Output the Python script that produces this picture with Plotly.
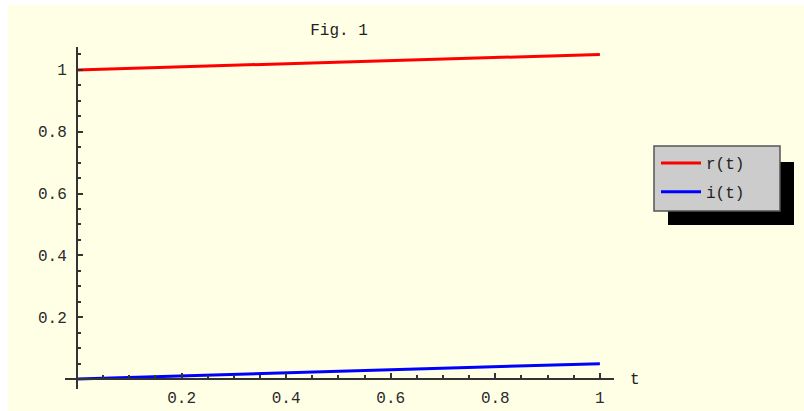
import plotly.graph_objects as go

t_vals = [0.0, 0.25, 0.5, 0.75, 1.0]
r_vals = [1.0, 1.0125, 1.025, 1.0375, 1.05]
i_vals = [0.0, 0.0125, 0.025, 0.0375, 0.05]
x_ticks = [0.2, 0.4, 0.6, 0.8, 1.0]
x_ticklabels = ["0.2", "0.4", "0.6", "0.8", "1"]
y_ticks = [0.2, 0.4, 0.6, 0.8, 1.0]
y_ticklabels = ["0.2", "0.4", "0.6", "0.8", "1"]

BG = "#FFFFE6"
FONT = "Liberation Mono"

W, H = 804, 411
L, R, T, B = 65, 190, 47, 22
PW, PH = W - L - R, H - T - B
xr = [-0.023, 1.027]
yr = [-0.032, 1.074]


def px2paper_x(px):
    return (px - L) / PW


def py2paper_y(py):
    return (H - B - py) / PH


fig = go.Figure()
fig.add_trace(go.Scatter(x=t_vals, y=r_vals, mode="lines", name="r(t)", legendgroup="r",
                         line=dict(color="#FF0000", width=3)))
fig.add_trace(go.Scatter(x=t_vals, y=i_vals, mode="lines", name="i(t)", legendgroup="i",
                         line=dict(color="#0000FF", width=3)))

axis_font = dict(family=FONT, size=16, color="#2a2a2a")
tick_common = dict(ticks="inside", ticklen=5, tickwidth=1.5, tickcolor="#333333")
fig.update_layout(
    width=W, height=H,
    margin=dict(l=L, r=R, t=T, b=B, autoexpand=False),
    paper_bgcolor=BG, plot_bgcolor=BG,
    title=dict(text="Fig. 1", x=339 / W, xref="container", xanchor="center",
               y=1 - 29 / H, yref="container", yanchor="middle",
               font=dict(family=FONT, size=16, color="#222222")),
    xaxis=dict(range=xr, showgrid=False, zeroline=False, showline=True,
               linecolor="#333333", linewidth=2, automargin=False,
               anchor="free", position=(0 - yr[0]) / (yr[1] - yr[0]),
               tickmode="array", tickvals=x_ticks, ticktext=x_ticklabels,
               minor=dict(tickmode="linear", tick0=0, dtick=0.05, ticks="inside",
                          ticklen=3, tickwidth=1.5, tickcolor="#333333"),
               tickfont=axis_font, ticklabelstandoff=4, **tick_common),
    yaxis=dict(range=yr, showgrid=False, zeroline=False, showline=True,
               linecolor="#333333", linewidth=2, automargin=False,
               anchor="free", position=(0 - xr[0]) / (xr[1] - xr[0]),
               tickmode="array", tickvals=y_ticks, ticktext=y_ticklabels,
               minor=dict(tickmode="linear", tick0=0, dtick=0.05, ticks="inside",
                          ticklen=3, tickwidth=1.5, tickcolor="#333333"),
               tickfont=axis_font, ticklabelstandoff=6, **tick_common),
    legend=dict(x=656 / W, y=1 - 146 / H, xref="container", yref="container",
                xanchor="left", yanchor="top",
                bgcolor="rgba(0,0,0,0)", borderwidth=0,
                font=dict(family=FONT, size=16, color="#222222"),
                itemwidth=40, tracegroupgap=5),
    showlegend=True,
)

fig.add_annotation(x=px2paper_x(635), y=py2paper_y(380), xref="paper", yref="paper",
                   xanchor="center", yanchor="middle",
                   text="t", showarrow=False,
                   font=dict(family=FONT, size=16, color="#222222"))

# legend drop shadow and box
fig.add_shape(type="rect", xref="paper", yref="paper",
              x0=px2paper_x(668), x1=px2paper_x(794),
              y0=py2paper_y(225), y1=py2paper_y(162),
              fillcolor="#000000", line=dict(width=0), layer="above")
fig.add_shape(type="rect", xref="paper", yref="paper",
              x0=px2paper_x(654), x1=px2paper_x(780),
              y0=py2paper_y(211), y1=py2paper_y(146),
              fillcolor="#CCCCCC", line=dict(width=1.5, color="#555555"), layer="above")
# white border strips (top, left)
fig.add_shape(type="rect", xref="paper", yref="paper",
              x0=px2paper_x(-2), x1=px2paper_x(W + 2), y0=py2paper_y(5), y1=py2paper_y(-2),
              fillcolor="#FFFFFF", line=dict(width=0), layer="above")
fig.add_shape(type="rect", xref="paper", yref="paper",
              x0=px2paper_x(-2), x1=px2paper_x(8), y0=py2paper_y(H + 2), y1=py2paper_y(-2),
              fillcolor="#FFFFFF", line=dict(width=0), layer="above")

fig.write_html("out.html", config={"displayModeBar": False},
               post_script="document.body.style.margin='0';document.body.style.overflow='hidden';")
